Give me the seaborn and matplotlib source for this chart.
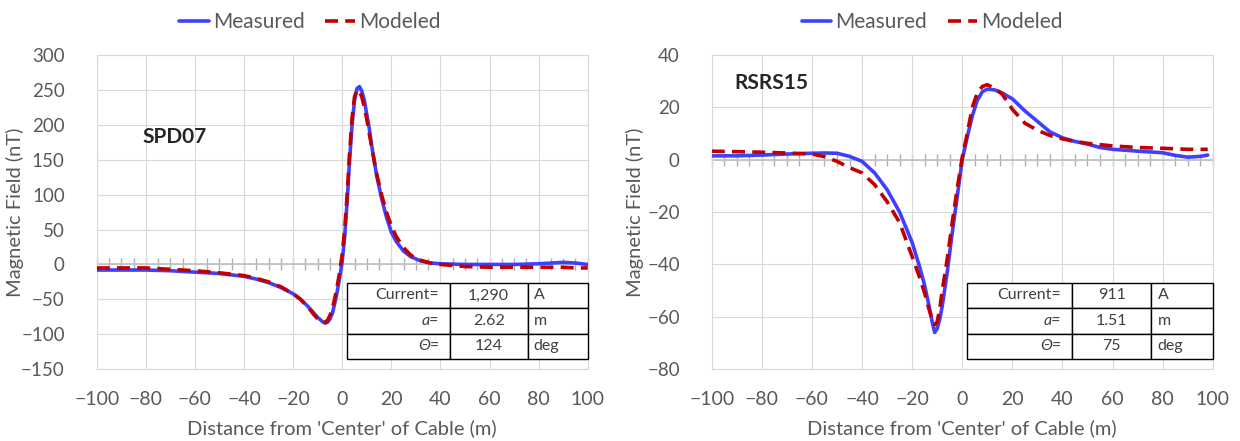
import numpy as np
import pandas as pd
import seaborn as sns
import matplotlib.pyplot as plt
from matplotlib.ticker import MultipleLocator, NullFormatter

# SPD07 profile (left panel)
spd_x = [-100, -90, -80, -70, -60, -50, -40, -35, -30, -25, -20, -17, -14, -12, -10, -8, -7, -6,
         -5, -4, -3, -2, -1, 0, 1, 2, 3, 4, 5, 6, 7, 8, 9, 10, 11, 12, 14, 16, 18, 20, 22, 25,
         28, 32, 36, 40, 50, 60, 70, 80, 85, 90, 95, 100]
spd_measured = [-8, -8, -8, -9, -11, -13, -17, -21, -26, -33, -42, -50, -60, -68, -76, -82, -84, -83,
                -78, -70, -55, -38, -18, 5, 40, 90, 150, 200, 235, 252, 255, 248, 235, 215, 195, 170, 128, 95,
                68, 46, 33, 19, 11, 5, 2, 1, 0, 0, 0, 1, 2, 3, 2, 0]
spd_modeled = [-5, -5, -5, -7, -9, -12, -16, -20, -25, -32, -42, -50, -61, -70, -78, -83, -83, -80,
               -73, -63, -48, -30, -10, 15, 50, 100, 160, 210, 240, 250, 248, 240, 225, 208, 188, 168, 130, 100,
               75, 55, 40, 24, 13, 6, 2, 0, -3, -4, -4, -4, -4, -4, -5, -5]

# RSRS15 profile (right panel)
rsrs_x = [-100, -90, -80, -70, -60, -55, -50, -45, -40, -35, -30, -25, -20, -17, -15, -13, -12, -11,
          -10, -9, -8, -6, -4, -2, 0, 2, 4, 6, 8, 10, 13, 16, 20, 25, 30, 35, 40, 45, 50, 55, 60,
          70, 80, 85, 90, 95, 98]
rsrs_measured = [1.5, 1.5, 1.8, 2.2, 2.5, 2.6, 2.5, 1.3, -0.6, -5, -11.4, -20, -31.6, -41, -48, -57, -62, -66,
                 -64.5, -61, -56, -43, -28, -14, 0, 8.7, 16.7, 22.7, 26, 27, 26.7, 25.5, 23.3, 18.7, 14.7, 10.7,
                 8.4, 7, 6, 4.7, 4, 3.3, 2.7, 1.7, 1, 1.3, 1.8]
rsrs_modeled = [3.3, 3.1, 2.9, 2.6, 2.2, 1.2, -0.6, -3, -5, -9.5, -16, -24, -37, -45, -51, -58, -61, -63,
                -62, -57, -50, -38, -24, -11, 1, 10, 20, 25.5, 28, 28.7, 27.3, 25, 19.3, 14, 11.3, 9.3,
                8, 7, 6.3, 5.8, 5.3, 4.7, 4.4, 4.2, 4, 4, 4]

panel_names = ["SPD07", "RSRS15"]
table_rows = [
    [["Current=", "1,290", "A"], ["a=", "2.62", "m"], ["Θ=", "124", "deg"]],
    [["Current=", "911", "A"], ["a=", "1.51", "m"], ["Θ=", "75", "deg"]],
]
y_limits = [(-150, 300), (-80, 40)]
y_steps = [50, 20]

sns.set_style("whitegrid", {"grid.color": "#d9d9d9", "axes.edgecolor": "#d9d9d9"})
plt.rcParams['font.family'] = ['Lato', 'DejaVu Sans']

text_gray = "#595959"


def long_frame(x, measured, modeled):
    return pd.concat([
        pd.DataFrame({"x": x, "y": measured, "Series": "Measured"}),
        pd.DataFrame({"x": x, "y": modeled, "Series": "Modeled"}),
    ], ignore_index=True)


frames = [long_frame(spd_x, spd_measured, spd_modeled),
          long_frame(rsrs_x, rsrs_measured, rsrs_modeled)]

fig = plt.figure(figsize=(12.4, 4.41), dpi=100)
axes = [fig.add_axes([0.078, 0.163, 0.396, 0.712]),
        fig.add_axes([0.574, 0.163, 0.404, 0.712])]
label_pos = [(0.094, 0.74), (0.046, 0.91)]
legend_x = [0.434, 0.44]
ylabel_x = [-0.148, -0.135]

for i, ax in enumerate(axes):
    lo, hi = y_limits[i]
    ax.axhline(0, color="#bfbfbf", lw=1.2, zorder=1)

    # tick marks along the zero line, every 5 m
    zero_axis = ax.secondary_xaxis((0 - lo) / (hi - lo))
    zero_axis.xaxis.set_major_locator(MultipleLocator(5))
    zero_axis.xaxis.set_major_formatter(NullFormatter())
    zero_axis.tick_params(axis='x', which='both', direction='inout', length=8, width=1,
                          color="#b0b0b0", labelbottom=False, labeltop=False)
    for sp in zero_axis.spines.values():
        sp.set_visible(False)

    sns.lineplot(data=frames[i], x="x", y="y", hue="Series", style="Series",
                 palette={"Measured": "#3f3fff", "Modeled": "#c00000"},
                 dashes={"Measured": "", "Modeled": (3.6, 2.0)},
                 linewidth=2.6, sort=False, estimator=None, ax=ax, zorder=3)

    ax.set_xlim(-100, 100)
    ax.set_ylim(lo, hi)
    ax.xaxis.set_major_locator(MultipleLocator(20))
    ax.yaxis.set_major_locator(MultipleLocator(y_steps[i]))
    ax.tick_params(colors=text_gray, length=0)
    ax.tick_params(axis='x', pad=16, labelsize=14)
    ax.tick_params(axis='y', pad=23, labelsize=13.5)
    ax.set_xlabel("Distance from 'Center' of Cable (m)", fontsize=14.5, color=text_gray, labelpad=8)
    ax.set_ylabel("Magnetic Field (nT)", fontsize=14.5, color=text_gray)
    ax.yaxis.set_label_coords(ylabel_x[i], 0.5)

    ax.text(label_pos[i][0], label_pos[i][1], panel_names[i], transform=ax.transAxes,
            fontsize=15, fontweight="bold", va="center", ha="left")

    handles, labels = ax.get_legend_handles_labels()
    ax.legend(handles, labels, loc="center", bbox_to_anchor=(legend_x[i], 1.105), ncol=2,
              frameon=False, fontsize=15, handlelength=1.4, handletextpad=0.2,
              columnspacing=1.0, labelcolor=text_gray)

    tbl = ax.table(cellText=table_rows[i], colWidths=[0.427, 0.324, 0.249],
                   bbox=[0.509, 0.032, 0.491, 0.243], zorder=5)
    tbl.auto_set_font_size(False)
    tbl.set_fontsize(11.5)
    for (r, c), cell in tbl.get_celld().items():
        cell.set_edgecolor("black")
        cell.set_linewidth(1.0)
        cell.set_facecolor("white")
        cell.get_text().set_color("#404040")
        if c == 0 and r > 0:
            cell.get_text().set_fontstyle("italic")
        cell._loc = ["right", "center", "left"][c]
        cell.get_text().set_ha(["right", "center", "left"][c])

fig.savefig("out.png", dpi=100)
